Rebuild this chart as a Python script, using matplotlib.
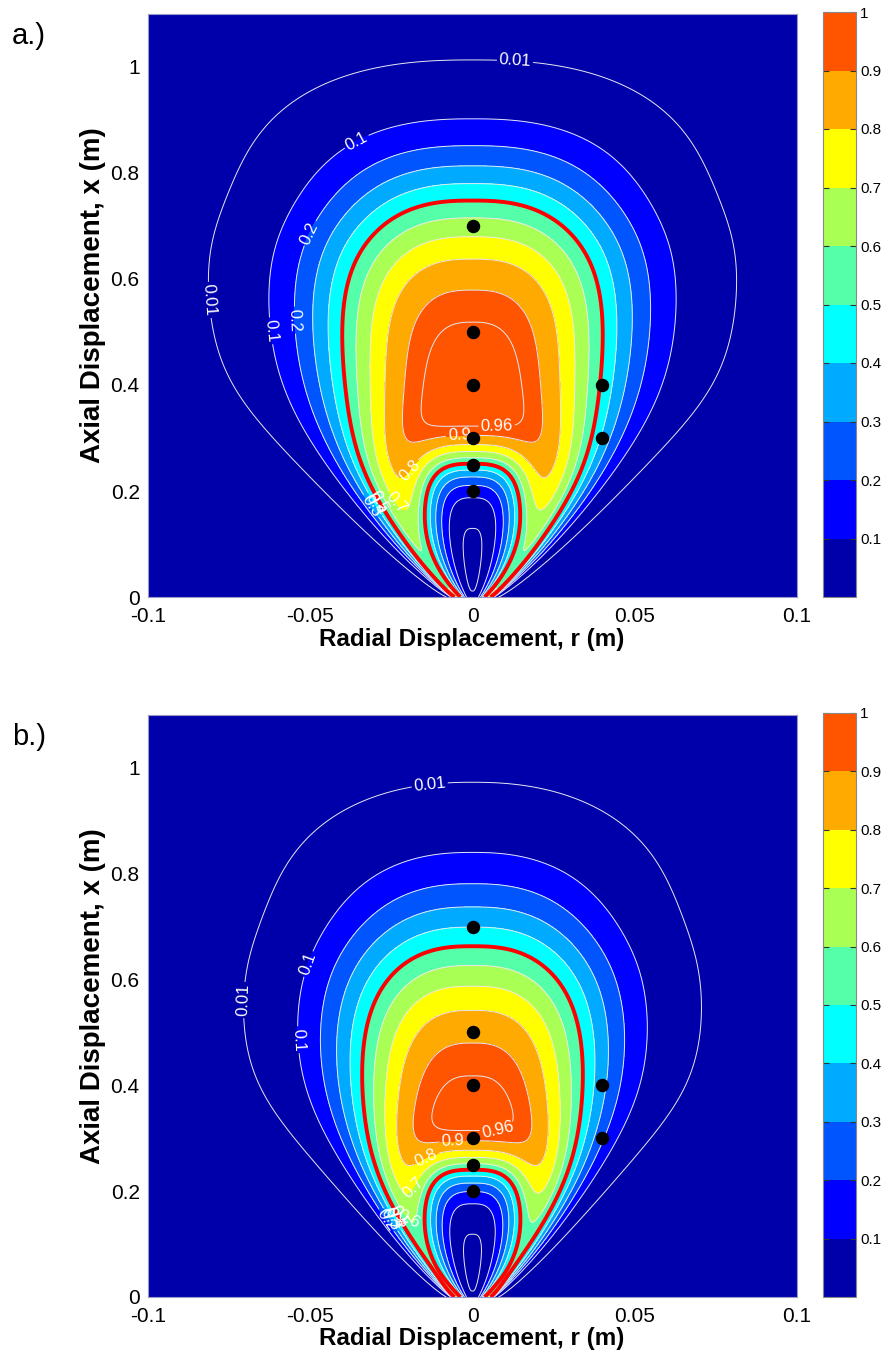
import numpy as np
import matplotlib.pyplot as plt

plt.rcParams['font.family'] = ['Liberation Sans', 'DejaVu Sans']

# colour bands (jet, 10 steps) and contour levels
fill_levels = [0.0, 0.1, 0.2, 0.3, 0.4, 0.5, 0.6, 0.7, 0.8, 0.9, 1.0]
band_colors = ['#0000aa', '#0000ff', '#0055ff', '#00aaff', '#00ffff',
               '#55ffaa', '#aaff55', '#ffff00', '#ffaa00', '#ff5500']
line_levels = [0.01, 0.1, 0.2, 0.3, 0.4, 0.5, 0.6, 0.7, 0.8, 0.9, 0.96]
red_level = [0.5]
cbar_ticks = [0.1, 0.2, 0.3, 0.4, 0.5, 0.6, 0.7, 0.8, 0.9, 1.0]

# probe points (same in both panels)
probe_r = [0.0, 0.0, 0.0, 0.0, 0.0, 0.0, 0.04, 0.04]
probe_x = [0.7, 0.5, 0.4, 0.3, 0.25, 0.2, 0.4, 0.3]

# field shape: [a, b]
plateau_end = [0.278, 0.212]   # centre value starts to fall here
fall_scale = [0.5125, 0.499]
fall_exp = [4.23, 3.62]
width_far = [0.049, 0.043]     # radial width downstream
width_cut = [0.72, 0.68]       # plume narrows above this
top_exp = [2.4, 2.2]           # radial profile exponent near the top
mid_gain = [0.35, 0.5]         # extra sharpness around x = 0.55
hole_scale = [0.264, 0.2525]   # axial reach of the central dip
hole_exp = [6.13, 5.78]

panel_tags = ['a.)', 'b.)']

# contour labels: level, r, x
label_lev = [
    [0.01, 0.1, 0.2, 0.01, 0.1, 0.2, 0.96, 0.9, 0.8, 0.7, 0.5, 0.4, 0.3],
    [0.01, 0.1, 0.01, 0.1, 0.96, 0.9, 0.8, 0.7, 0.6, 0.5, 0.4, 0.3, 0.2],
]
label_r = [
    [0.013, -0.034, -0.048, -0.0775, -0.0624, -0.056, 0.0075, -0.004, -0.0187, -0.0223, -0.030, -0.032, -0.034],
    [-0.013, -0.050, -0.069, -0.0544, 0.0075, -0.006, -0.013, -0.0158, -0.0205, -0.026, -0.028, -0.030, -0.032],
]
label_x = [
    [1.0, 0.84, 0.68, 0.562, 0.502, 0.522, 0.338, 0.302, 0.236, 0.183, 0.175, 0.168, 0.160],
    [0.958, 0.628, 0.561, 0.486, 0.335, 0.300, 0.246, 0.197, 0.142, 0.140, 0.134, 0.128, 0.122],
]


def field(R, X, k):
    A = np.abs(R)
    dx = np.clip(X - plateau_end[k], 0, None)
    env = np.exp(-(dx / fall_scale[k]) ** fall_exp[k])
    env *= 1 - 0.22 * np.exp(-((X - 0.1) / 0.12) ** 2)
    b = 0.006 + (width_far[k] - 0.006) * np.tanh((X / 0.27) ** 0.9)
    b *= 1 - 0.1 / (1 + np.exp(-(X - width_cut[k]) / 0.05))
    p = top_exp[k] + mid_gain[k] * np.exp(-((X - 0.55) / 0.3) ** 2) + 6.0 * np.exp(-(X / 0.24) ** 2)
    core = np.exp(-(A / b) ** p)
    skirt = 0.025 * np.exp(-(X / 0.3) ** 2) * np.exp(-(A / (1.5 * b)) ** 2)
    depth = np.exp(-(X / hole_scale[k]) ** hole_exp[k]) * (1 - 0.02 * np.exp(-X / 0.02))
    w = 0.004 + 0.013 * (1 - np.exp(-X / 0.08))
    hole = depth * np.exp(-(A / w) ** 3)
    return env * (core + skirt * (1 - core)) * (1 - hole)


r = np.linspace(-0.1, 0.1, 801)
x = np.linspace(0, 1.1, 881)
R, X = np.meshgrid(r, x)

fig = plt.figure(figsize=(8.9, 13.61), dpi=100)
W, H = 890.0, 1361.0
tops = [14, 715]
bottoms = [597, 1297]
fmt = lambda v: f'{v:g}'

for k in range(2):
    Z = field(R, X, k)
    ax = fig.add_axes([148 / W, 1 - bottoms[k] / H, 649 / W, (bottoms[k] - tops[k]) / H])
    cf = ax.contourf(R, X, Z, levels=fill_levels, colors=band_colors)
    # one white line set per level so each can get its own labels
    for lev in line_levels:
        cs = ax.contour(R, X, Z, levels=[lev], colors='#e8e8f0', linewidths=0.7)
        spots = [(lr, lx) for lv, lr, lx in zip(label_lev[k], label_r[k], label_x[k]) if lv == lev]
        if spots:
            cs.clabel(manual=spots, inline=True, fmt=fmt, fontsize=12,
                      colors='white', inline_spacing=2)
    ax.contour(R, X, Z, levels=red_level, colors='red', linewidths=2.8)
    ax.scatter(probe_r, probe_x, s=75, c='black', zorder=5)

    ax.set_xlim(-0.1, 0.1)
    ax.set_ylim(0, 1.1)
    ax.set_xticks([-0.1, -0.05, 0, 0.05, 0.1])
    ax.set_xticklabels(['-0.1', '-0.05', '0', '0.05', '0.1'])
    ax.set_yticks([0, 0.2, 0.4, 0.6, 0.8, 1.0])
    ax.set_yticklabels(['0', '0.2', '0.4', '0.6', '0.8', '1'])
    ax.tick_params(length=0, labelsize=15)
    ax.tick_params(axis='x', pad=7)
    ax.tick_params(axis='y', pad=6)
    for s in ax.spines.values():
        s.set_color('#9a9ac8')
        s.set_linewidth(0.8)

    cax = fig.add_axes([823 / W, 1 - bottoms[k] / H, 33 / W, (bottoms[k] - tops[k] + 2) / H])
    cb = fig.colorbar(cf, cax=cax, ticks=cbar_ticks)
    cb.ax.set_yticklabels([fmt(t) for t in cbar_ticks])
    cb.ax.tick_params(direction='in', length=4, width=0.8, color='#333333',
                      left=True, right=True, labelsize=11, pad=3)
    cb.outline.set_edgecolor('#888888')
    cb.outline.set_linewidth(0.8)

    yc = (tops[k] + bottoms[k]) / 2 - 10
    fig.text(93 / W, 1 - yc / H, 'Axial Displacement, x (m)', rotation=90,
             ha='center', va='center', fontsize=20, fontweight='bold')
    fig.text(472 / W, 1 - (bottoms[k] + 42) / H, 'Radial Displacement, r (m)',
             ha='center', va='center', fontsize=17.5, fontweight='bold')
    fig.text(12 / W, 1 - (tops[k] + 22) / H, panel_tags[k], ha='left', va='center',
             fontsize=21)

fig.savefig('out.png', dpi=100)
